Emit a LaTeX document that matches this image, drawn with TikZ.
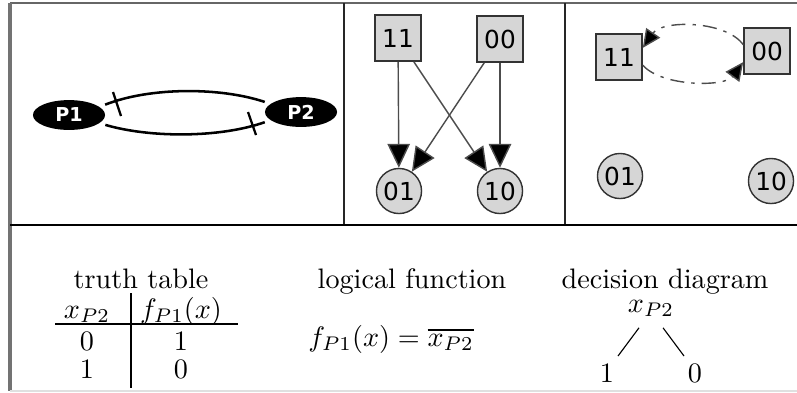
\documentclass[tikz,border=0pt]{standalone}
\usepackage{fontspec}
\newfontfamily\dejavu{DejaVu Sans}
\usetikzlibrary{arrows.meta,shapes.geometric}
\begin{document}
\begin{tikzpicture}[x=0.355pt,y=-0.355pt,
  pnode/.style={ellipse, fill=black, text=white, inner sep=0pt,
    minimum width=25.6pt, minimum height=10.6pt,
    font=\dejavu\bfseries\fontsize{6.8}{7}\selectfont},
  sbox/.style={rectangle, draw=black!80, fill=black!16, line width=0.6pt,
    minimum size=16.3pt, inner sep=0pt, font=\dejavu\fontsize{8.8}{10}\selectfont},
  scirc/.style={circle, draw=black!80, fill=black!16, line width=0.5pt,
    minimum size=16pt, inner sep=0pt, font=\dejavu\fontsize{8.8}{10}\selectfont},
  arr/.style={draw=black!70, line width=0.5pt,
    -{Triangle[length=8.5pt,width=8pt,fill=black]}},
  dd/.style={draw=black!70, line width=0.5pt,
    dash pattern=on 5pt off 2.5pt on 1.2pt off 2.5pt,
    -{Triangle[length=6.5pt,width=6pt,fill=black]}},
  arc/.style={line width=0.9pt, shorten <=2pt, shorten >=2pt},
  tick/.style={line width=0.8pt},
  lab/.style={anchor=base, inner sep=0pt},
  frame/.style={line width=0.8pt}
]
\useasboundingbox (0,0) rectangle (797,392);

% frame
\draw[frame, black!60] (10,3) -- (797,3);
\draw[frame, black!55, line width=1.2pt] (10,3) -- (10,391);
\draw[frame, black!85] (344,3) -- (344,225);
\draw[frame, black!85] (565,3) -- (565,225);
\draw[frame, black] (10,225) -- (797,225);
\draw[frame, black!12] (10,391) -- (797,391);

% panel 1
\node[pnode] (P1) at (69,115) {P1};
\node[pnode] (P2) at (301,112) {P2};
\draw[arc] (P1.15) .. controls (150,87) and (220,87) .. (P2.165);
\draw[arc] (P1.-15) .. controls (150,138) and (220,138) .. (P2.195);
\draw[tick] (113,92) -- (121,116);
\draw[tick] (248,112) -- (256,135);

% panel 2
\node[sbox] (a11) at (398,38) {11};
\node[sbox] (a00) at (500,39) {00};
\node[scirc] (a01) at (399,191) {01};
\node[scirc] (a10) at (500,191) {10};
\draw[arr] (a11) -- (a01);
\draw[arr] (a11) -- (a10);
\draw[arr] (a00) -- (a01);
\draw[arr] (a00) -- (a10);

% panel 3
\node[sbox] (q11) at (619,57) {11};
\node[sbox] (q00) at (767,51) {00};
\node[scirc] (q01) at (620,176) {01};
\node[scirc] (q10) at (771,181) {10};
\draw[dd] (q00.165) .. controls (725,20) and (662,20) .. (q11.21);
\draw[dd] (q11.-19) .. controls (662,87) and (725,87) .. (q00.205);

% bottom: headings
\node[lab] (h1) at (141,288) {truth table};
\node[lab] (h2) at (412,288) {logical function};
\node[lab] (h3) at (665,288) {decision diagram};

% truth table
\node[lab] (t1) at (87,318) {$x_{P2}$};
\node[lab] (t2) at (181,318) {$f_{P1}(x)$};
\node[lab] (t3) at (87,350) {$0$};
\node[lab] (t4) at (181,350) {$1$};
\node[lab] (t5) at (87,378) {$1$};
\node[lab] (t6) at (181,378) {$0$};
\draw[line width=0.4pt] (55,324) -- (238,324);
\draw[line width=0.4pt] (131,293) -- (131,388);

% logical function
\node[lab] (lf) at (391,346) {$f_{P1}(x)=\overline{x_{P2}}$};

% decision diagram
\node[lab] (dx) at (651,312) {$x_{P2}$};
\node[lab] (d1) at (607,382) {$1$};
\node[lab] (d0) at (695,382) {$0$};
\draw[line width=0.4pt] (dx.south) ++(-12,11) coordinate (dl1) -- (618,356) coordinate (dl2);
\draw[line width=0.4pt] (dx.south) ++(12,11) coordinate (dr1) -- (684,356) coordinate (dr2);
\end{tikzpicture}
\end{document}
